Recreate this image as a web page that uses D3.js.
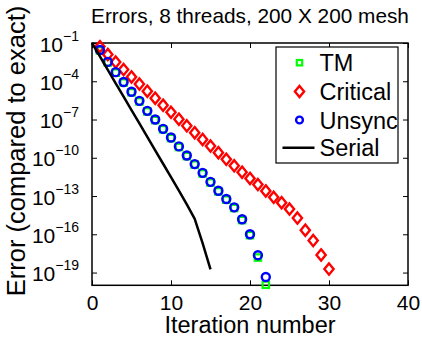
<!DOCTYPE html>
<html>
<head>
<meta charset="utf-8">
<script src="https://cdn.jsdelivr.net/npm/d3@7/dist/d3.min.js"></script>
<style>
  html, body { margin: 0; padding: 0; background: #fff; }
  svg { display: block; }
  text { font-family: "Liberation Sans", Arial, Helvetica, sans-serif; fill: #000; }
</style>
</head>
<body>
<svg id="chart" width="422" height="340"></svg>
<script>
// Error against iteration for three threaded variants and the serial run
const tmIter = [1,2,3,4,5,6,7,8,9,10,11,12,13,14,15,16,17,18,19,20,21,22];
const tmError = [2.6e-2,3.0e-3,4.7e-4,7.9e-5,1.35e-5,2.6e-6,4.3e-7,9.0e-8,1.7e-8,3.5e-9,7.0e-10,1.35e-10,2.9e-11,5.9e-12,1.15e-12,2.3e-13,5.2e-14,1.15e-14,1.3e-15,8.5e-17,1.5e-18,1.1e-20];

const criticalIter = [1,2,3,4,5,6,7,8,9,10,11,12,13,14,15,16,17,18,19,20,21,22,23,24,25,26,27,28,29,30];
const criticalError = [5.2e-2,1.26e-2,3.2e-3,8.3e-4,2.2e-4,6.0e-5,1.66e-5,4.7e-6,1.32e-6,3.7e-7,1.07e-7,3.2e-8,9.3e-9,2.75e-9,8.3e-10,2.5e-10,7.6e-11,2.35e-11,7.4e-12,2.4e-12,7.9e-13,2.5e-13,7.9e-14,3.0e-14,9.5e-15,1.86e-15,2.1e-16,3.2e-17,2.4e-18,1.86e-19];

const unsyncIter = [1,2,3,4,5,6,7,8,9,10,11,12,13,14,15,16,17,18,19,20,21,22];
const unsyncError = [2.8e-2,3.3e-3,5.2e-4,8.7e-5,1.5e-5,2.9e-6,4.8e-7,1.0e-7,1.86e-8,3.9e-9,7.8e-10,1.5e-10,3.2e-11,6.6e-12,1.3e-12,2.6e-13,5.8e-14,1.3e-14,1.5e-15,1.0e-16,2.3e-18,4.5e-20];

const serialIter = [0,1,2,3,4,5,6,7,8,9,10,11,12,13,14,15];
const serialError = [1e-1,8.9e-3,7.9e-4,6.9e-5,6.2e-6,5.5e-7,4.9e-8,4.4e-9,3.8e-10,3.4e-11,3.0e-12,2.7e-13,2.2e-14,1.6e-15,2.0e-17,1.8e-19];

const xTicks = [0,10,20,30,40];
const yTickExponents = [-19,-16,-13,-10,-7,-4,-1];
const legendLabels = ["TM","Critical","Unsync","Serial"];
const titleText = "Errors, 8 threads, 200 X 200 mesh";
const xLabel = "Iteration number";
const yLabel = "Error (compared to exact)";

const svg = d3.select("#chart");
const plot = { left: 92, right: 408, top: 43, bottom: 285.3 };

const x = d3.scaleLinear().domain([0, 40]).range([plot.left, plot.right]);
const y = d3.scaleLog().domain([1e-20, 1e-1]).range([plot.bottom, plot.top]);

const tickLen = 5;
const tickFont = 21;

// x axis (bottom with labels, top mirrored)
const gx = svg.append("g")
  .attr("transform", `translate(0,${plot.bottom})`)
  .call(d3.axisBottom(x).tickValues(xTicks).tickSizeInner(-tickLen).tickSizeOuter(0).tickPadding(6));
gx.select(".domain").remove();
gx.selectAll(".tick line").attr("stroke", "#000").attr("stroke-width", 1);
gx.selectAll(".tick text").attr("font-size", tickFont).attr("dy", "0.9em").attr("fill", "#000");

const gxTop = svg.append("g")
  .attr("transform", `translate(0,${plot.top})`)
  .call(d3.axisTop(x).tickValues(xTicks).tickSizeInner(-tickLen).tickSizeOuter(0).tickFormat(() => ""));
gxTop.select(".domain").remove();
gxTop.selectAll(".tick line").attr("stroke", "#000");

// y axis (left with power-of-ten labels, right mirrored)
const yTickVals = yTickExponents.map(e => Math.pow(10, e));
const gy = svg.append("g")
  .attr("transform", `translate(${plot.left},0)`)
  .call(d3.axisLeft(y).tickValues(yTickVals).tickSizeInner(-tickLen).tickSizeOuter(0).tickFormat(() => ""));
gy.select(".domain").remove();
gy.selectAll(".tick line").attr("stroke", "#000");
gy.selectAll(".tick").each(function(d) {
  const exp = Math.round(Math.log10(d));
  const t = d3.select(this).append("text")
    .attr("x", -13)
    .attr("y", 8)
    .attr("text-anchor", "end")
    .attr("fill", "#000");
  t.append("tspan").attr("font-size", tickFont).text("10");
  t.append("tspan").attr("font-size", 14).attr("dy", -11).text("\u2212" + Math.abs(exp));
});

const gyRight = svg.append("g")
  .attr("transform", `translate(${plot.right},0)`)
  .call(d3.axisRight(y).tickValues(yTickVals).tickSizeInner(-tickLen).tickSizeOuter(0).tickFormat(() => ""));
gyRight.select(".domain").remove();
gyRight.selectAll(".tick line").attr("stroke", "#000");

// plot frame
svg.append("rect")
  .attr("x", plot.left).attr("y", plot.top)
  .attr("width", plot.right - plot.left).attr("height", plot.bottom - plot.top)
  .attr("fill", "none").attr("stroke", "#000").attr("stroke-width", 1.5);

const diamondPath = "M0,-5.6L4.6,0L0,5.6L-4.6,0Z";

// TM: green squares
svg.append("g").selectAll("rect")
  .data(tmIter.map((it, i) => [it, tmError[i]]))
  .join("rect")
  .attr("x", d => x(d[0]) - 3.2).attr("y", d => y(d[1]) - 3.2)
  .attr("width", 6.4).attr("height", 6.4)
  .attr("fill", "none").attr("stroke", "#00ff00").attr("stroke-width", 2.2);

// Critical: red diamonds
svg.append("g").selectAll("path")
  .data(criticalIter.map((it, i) => [it, criticalError[i]]))
  .join("path")
  .attr("d", diamondPath)
  .attr("transform", d => `translate(${x(d[0])},${y(d[1])})`)
  .attr("fill", "none").attr("stroke", "#ff0000").attr("stroke-width", 2.4);

// Unsync: blue circles
svg.append("g").selectAll("circle")
  .data(unsyncIter.map((it, i) => [it, unsyncError[i]]))
  .join("circle")
  .attr("cx", d => x(d[0])).attr("cy", d => y(d[1])).attr("r", 4)
  .attr("fill", "none").attr("stroke", "#0000ff").attr("stroke-width", 2.4);

// Serial: black line
svg.append("path")
  .datum(serialIter.map((it, i) => [it, serialError[i]]))
  .attr("d", d3.line().x(d => x(d[0])).y(d => y(d[1])))
  .attr("fill", "none").attr("stroke", "#000").attr("stroke-width", 2.5)
  .attr("stroke-linejoin", "round");

// legend
const leg = { x: 276, y: 47, w: 122, h: 116 };
const legG = svg.append("g");
legG.append("rect")
  .attr("x", leg.x).attr("y", leg.y).attr("width", leg.w).attr("height", leg.h)
  .attr("fill", "#fff");
const rowY = [62.7, 91.5, 120, 147.7];
const markX = 299.5;
legG.append("rect").attr("x", markX - 2.7).attr("y", rowY[0] - 2.7).attr("width", 5.4).attr("height", 5.4)
  .attr("fill", "none").attr("stroke", "#00ff00").attr("stroke-width", 2.2);
legG.append("path").attr("d", diamondPath).attr("transform", `translate(${markX},${rowY[1]})`)
  .attr("fill", "none").attr("stroke", "#ff0000").attr("stroke-width", 2.4);
legG.append("circle").attr("cx", markX).attr("cy", rowY[2]).attr("r", 3.4)
  .attr("fill", "none").attr("stroke", "#0000ff").attr("stroke-width", 2.4);
legG.append("line").attr("x1", 282.5).attr("x2", 314.5).attr("y1", rowY[3]).attr("y2", rowY[3])
  .attr("stroke", "#000").attr("stroke-width", 2.5);
legG.selectAll("text.lbl")
  .data(legendLabels)
  .join("text")
  .attr("class", "lbl")
  .attr("x", 319.5)
  .attr("y", (d, i) => rowY[i] + 8.5)
  .attr("font-size", 23.5)
  .text(d => d);
legG.append("rect")
  .attr("x", leg.x).attr("y", leg.y).attr("width", leg.w).attr("height", leg.h)
  .attr("fill", "none").attr("stroke", "#000").attr("stroke-width", 1.2);

// title and axis labels
svg.append("text")
  .attr("x", 250).attr("y", 22.5)
  .attr("text-anchor", "middle").attr("font-size", 20.8)
  .text(titleText);
svg.append("text")
  .attr("x", 250).attr("y", 333)
  .attr("text-anchor", "middle").attr("font-size", 23.5)
  .text(xLabel);
svg.append("text")
  .attr("transform", "translate(25,151) rotate(-90)")
  .attr("text-anchor", "middle").attr("font-size", 25.5)
  .text(yLabel);
</script>
</body>
</html>
